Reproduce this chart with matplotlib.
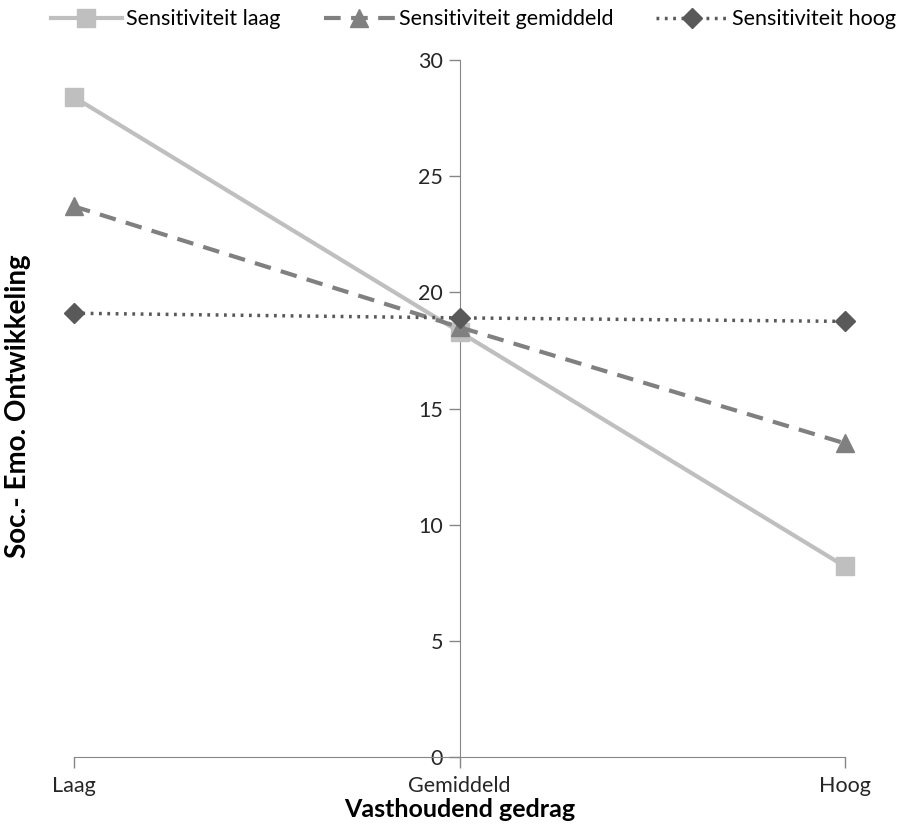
import matplotlib
matplotlib.use("Agg")
import matplotlib.pyplot as plt

plt.rcParams['font.family'] = ['Lato', 'DejaVu Sans']

categories = ["Laag", "Gemiddeld", "Hoog"]
series_names = ["Sensitiviteit laag", "Sensitiviteit gemiddeld", "Sensitiviteit hoog"]
laag = [28.4, 18.3, 8.2]
gemiddeld = [23.7, 18.5, 13.5]
hoog = [19.1, 18.9, 18.75]
yticks = [0, 5, 10, 15, 20, 25, 30]

fig = plt.figure(figsize=(9.19, 8.32), dpi=100)
ax = fig.add_axes([74/919, 1-757/832, (845-74)/919, (757-60)/832])

x = list(range(len(categories)))
ax.plot(x, laag, color="#BFBFBF", lw=3, marker="s", ms=13, label=series_names[0], clip_on=False, zorder=3)
ax.plot(x, gemiddeld, color="#808080", lw=3, ls=(0, (4, 2.5)), marker="^", ms=13, label=series_names[1], clip_on=False, zorder=4)
ax.plot(x, hoog, color="#595959", lw=2.5, ls=(0, (0.8, 1.6)), marker="D", ms=10, label=series_names[2], clip_on=False, zorder=5)

ax.set_xlim(0, 2)
ax.set_ylim(0, 30)
ax.set_xticks(x)
ax.set_xticklabels(categories)
ax.set_yticks(yticks)

for s in ["top", "right"]:
    ax.spines[s].set_visible(False)
ax.spines["left"].set_position(("data", 1))
ax.spines["left"].set_color("#868686")
ax.spines["bottom"].set_color("#868686")
ax.tick_params(axis="both", colors="#868686", labelcolor="#262626", labelsize=15.5, length=8, width=1)
ax.tick_params(axis="x", pad=6)
ax.tick_params(axis="y", pad=4)

ax.set_xlabel("Vasthoudend gedrag", fontsize=18, fontweight="bold", labelpad=1)
fig.text(18/919, 1-406/832, "Soc.- Emo. Ontwikkeling", rotation=90, fontsize=20,
         fontweight="bold", ha="center", va="center")

leg = fig.legend(loc="upper center", bbox_to_anchor=(0.515, 1.012), ncol=3, frameon=False,
                 fontsize=15.5, handlelength=3.3, columnspacing=2.0, handletextpad=0.2)

fig.savefig("out.png", dpi=100)
